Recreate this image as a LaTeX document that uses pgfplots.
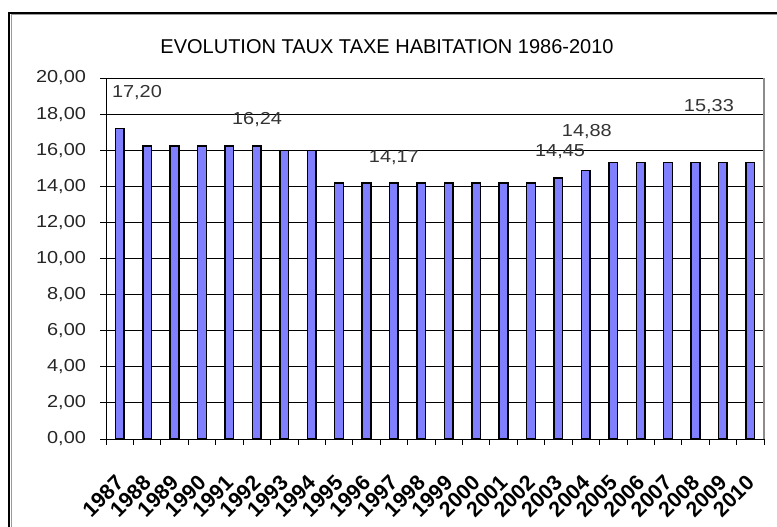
\documentclass[border=0pt]{standalone}
\usepackage{pgfplots}
\pgfplotsset{compat=1.18}
\usepackage{fontspec}
\setmainfont{Liberation Sans}
\newfontfamily\tickfont{Liberation Sans}[FakeStretch=1.15]
\definecolor{barblue}{RGB}{128,128,255}
\begin{document}
\begin{tikzpicture}
\useasboundingbox (0,0) rectangle (582.75pt,395.25pt);
\draw[black, line width=1.5pt] (6.75pt,0) -- (6.75pt,385.5pt) -- (582.75pt,385.5pt);
\draw[black!40, line width=0.9pt] (8.4pt,0) -- (8.4pt,384.1pt) -- (582.75pt,384.1pt);
\node[font=\fontsize{15pt}{15pt}\selectfont] at (290.25pt,360pt) {EVOLUTION TAUX TAXE HABITATION 1986-2010};
\begin{axis}[
  at={(79.5pt,66pt)}, anchor=south west,
  scale only axis, width=493.5pt, height=270.75pt,
  xmin=-0.5, xmax=23.5, ymin=0, ymax=20,
  ybar, bar width=6.5pt,
  xtick={0,...,23},
  xticklabels={1987,1988,1989,1990,1991,1992,1993,1994,1995,1996,1997,1998,1999,2000,2001,2002,2003,2004,2005,2006,2007,2008,2009,2010},
  major x tick style={draw=none},
  minor xtick={-0.5,0.5,...,23.5},
  minor tick length=4.5pt,
  major tick length=4.5pt,
  tick align=outside,
  tick pos=left,
  tick style={black, line width=0.6pt},
  ytick={0,2,...,20},
  ymajorgrids,
  major grid style={black, line width=0.6pt},
  axis line style={black, line width=0.7pt},
  /pgf/number format/.cd, fixed, fixed zerofill, precision=2, use comma, assume math mode=true,
  /pgfplots/.cd,
  yticklabel style={font=\tickfont\fontsize{13pt}{13pt}\selectfont, text=black!85, anchor=east, xshift=-7pt},
  xticklabel style={font=\bfseries\fontsize{16pt}{16pt}\selectfont, yshift=-20pt, xshift=-4pt, rotate=45, anchor=north east, inner sep=1pt},
  clip=false,
]
\addplot[fill=barblue, draw=black, line width=1.1pt] coordinates {
(0,17.20) (1,16.24) (2,16.24) (3,16.24) (4,16.24) (5,16.24) (6,15.97) (7,15.97)
(8,14.17) (9,14.17) (10,14.17) (11,14.17) (12,14.17) (13,14.17) (14,14.17) (15,14.17)
(16,14.45) (17,14.88) (18,15.33) (19,15.33) (20,15.33) (21,15.33) (22,15.33) (23,15.33)};
\begin{scope}[every node/.style={font=\tickfont\fontsize{13pt}{13pt}\selectfont, text=black!80}]
\node at (axis cs:0.63,19.17) {17,20};
\node at (axis cs:5.01,17.67) {16,24};
\node at (axis cs:10.0,15.57) {14,17};
\node at (axis cs:16.06,15.9) {14,45};
\node at (axis cs:17.04,17.06) {14,88};
\node at (axis cs:21.49,18.39) {15,33};
\end{scope}
\draw[black!45, line width=0.8pt] (axis cs:23.5,0) -- (axis cs:23.5,20);
\end{axis}
\end{tikzpicture}
\end{document}
